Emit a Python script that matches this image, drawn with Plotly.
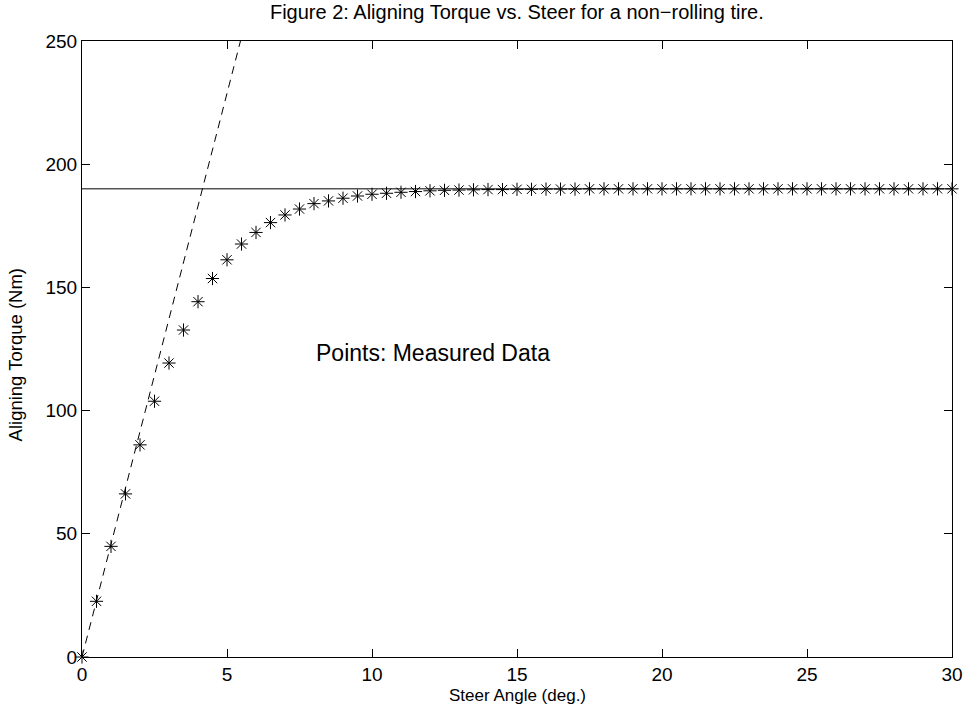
import plotly.graph_objects as go

# Measured data (steer angle in degrees, aligning torque in Nm)
steer_angle = [0.0, 0.5, 1.0, 1.5, 2.0, 2.5, 3.0, 3.5, 4.0, 4.5, 5.0, 5.5, 6.0, 6.5, 7.0, 7.5,
               8.0, 8.5, 9.0, 9.5, 10.0, 10.5, 11.0, 11.5, 12.0, 12.5, 13.0, 13.5, 14.0, 14.5,
               15.0, 15.5, 16.0, 16.5, 17.0, 17.5, 18.0, 18.5, 19.0, 19.5, 20.0, 20.5, 21.0,
               21.5, 22.0, 22.5, 23.0, 23.5, 24.0, 24.5, 25.0, 25.5, 26.0, 26.5, 27.0, 27.5,
               28.0, 28.5, 29.0, 29.5, 30.0]
aligning_torque = [0.0, 22.6, 44.9, 66.2, 86.1, 103.8, 119.3, 132.7, 144.2, 153.6, 161.2, 167.6,
                   172.3, 176.3, 179.4, 181.8, 184.0, 185.1, 186.2, 187.1, 187.8, 188.2, 188.6,
                   188.9, 189.2, 189.4, 189.5, 189.6, 189.7, 189.7, 189.8, 189.8, 189.9, 189.9,
                   189.9, 190.0, 190.0, 190.0, 190.0, 190.0, 190.0, 190.0, 190.0, 190.0, 190.0,
                   190.0, 190.0, 190.0, 190.0, 190.0, 190.0, 190.0, 190.0, 190.0, 190.0, 190.0,
                   190.0, 190.0, 190.0, 190.0, 190.0]

# Initial-slope (cornering stiffness) line, dashed
slope_x = [0.0, 6.0]
slope_y = [0.0, 274.5]

# Saturation level line, solid
sat_x = [0.0, 30.0]
sat_y = [190.0, 190.0]

x_ticks = [0, 5, 10, 15, 20, 25, 30]
y_ticks = [0, 50, 100, 150, 200, 250]

title_text = "Figure 2: Aligning Torque vs. Steer for a non\u2212rolling tire."
x_title = "Steer Angle (deg.)"
y_title = "Aligning Torque (Nm)"
note_text = "Points: Measured Data"

FONT = "Liberation Sans, Arial, Helvetica, sans-serif"

fig = go.Figure()
fig.add_trace(go.Scatter(x=slope_x, y=slope_y, mode="lines",
                         line=dict(color="black", width=1, dash="8px,6px"),
                         showlegend=False, hoverinfo="skip"))
fig.add_trace(go.Scatter(x=sat_x, y=sat_y, mode="lines",
                         line=dict(color="black", width=1),
                         showlegend=False, hoverinfo="skip"))
fig.add_trace(go.Scatter(x=steer_angle, y=aligning_torque, mode="markers",
                         marker=dict(symbol="asterisk-open", size=11, color="black",
                                     line=dict(color="black", width=1)),
                         cliponaxis=False, showlegend=False))

fig.add_annotation(x=8.0, y=123.5, text=note_text, showarrow=False,
                   xanchor="left", yanchor="middle",
                   font=dict(family=FONT, size=23, color="black"))
fig.add_annotation(x=0.5, y=-0.063, xref="paper", yref="paper", text=x_title,
                   showarrow=False, xanchor="center", yanchor="middle",
                   font=dict(family=FONT, size=17, color="black"))
fig.add_annotation(x=-0.0767, y=0.49, xref="paper", yref="paper", text=y_title,
                   showarrow=False, xanchor="center", yanchor="middle", textangle=-90,
                   font=dict(family=FONT, size=18.5, color="black"))

fig.update_layout(
    width=967, height=712,
    margin=dict(l=82, r=15, t=41, b=55),
    paper_bgcolor="white", plot_bgcolor="white",
    font=dict(family=FONT, color="black", size=17),
    title=dict(text=title_text, x=0.5345, xanchor="center", y=0.983, yanchor="middle",
               font=dict(family=FONT, size=20, color="black")),
    xaxis=dict(range=[0, 30], tickvals=x_ticks, ticks="inside", ticklen=8,
               tickcolor="black", showline=True, linecolor="black", linewidth=1,
               mirror="ticks", showgrid=False, zeroline=False, automargin=False,
               tickfont=dict(size=19)),
    yaxis=dict(range=[0, 250], tickvals=y_ticks, ticks="inside", ticklen=8,
               tickcolor="black", showline=True, linecolor="black", linewidth=1,
               mirror="ticks", showgrid=False, zeroline=False, automargin=False,
               tickfont=dict(size=19)),
)

fig.write_html("out.html", config={"displayModeBar": False},
               post_script="document.body.style.margin='0px';")
